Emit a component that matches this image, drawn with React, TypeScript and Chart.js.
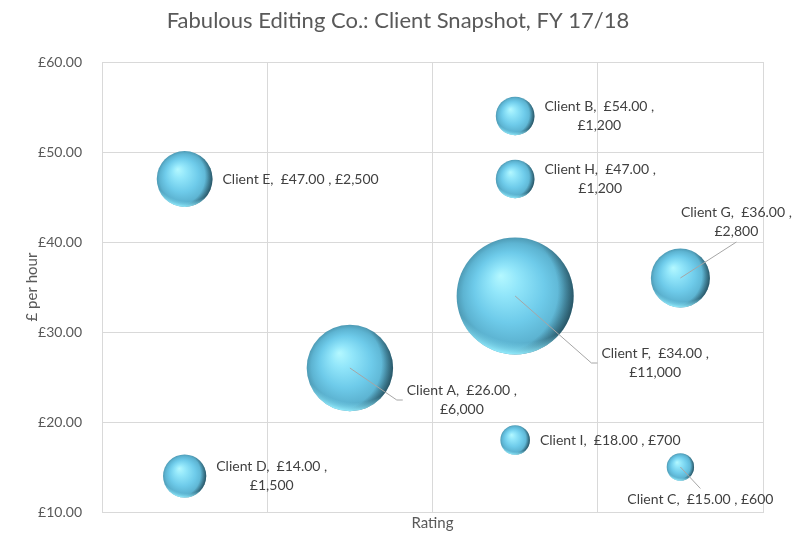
import { useEffect, useRef } from 'react';
import Chart from 'chart.js/auto';

const clients = ['Client A', 'Client B', 'Client C', 'Client D', 'Client E', 'Client F', 'Client G', 'Client H', 'Client I'];
const ratings = [2, 3, 4, 1, 1, 3, 4, 3, 3];
const ratePerHour = [26, 54, 15, 14, 47, 34, 36, 47, 18];
const bubbleSizes = [6000, 1200, 600, 1500, 2500, 11000, 2800, 1200, 700];
const yTicks = [10, 20, 30, 40, 50, 60];
const xGrid = [0.5, 1.5, 2.5, 3.5, 4.5];

// label placement: no dx = right of bubble, otherwise offset of label block centre
type LabelSpec = { wrap: boolean; dx?: number; dy?: number; leader?: 'left' | 'bottom' | 'top' };
const labelSpecs: LabelSpec[] = [
  { wrap: true, dx: 112, dy: 32, leader: 'left' },
  { wrap: true },
  { wrap: false, dx: 20, dy: 32, leader: 'top' },
  { wrap: true },
  { wrap: false },
  { wrap: true, dx: 140, dy: 67, leader: 'left' },
  { wrap: true, dx: 56, dy: -56, leader: 'bottom' },
  { wrap: true },
  { wrap: false },
];

const FONT = 'Lato, "Open Sans", sans-serif';
const MAX_R = 58.5;
const maxSize = Math.max(...bubbleSizes);
const radiusFor = (s: number) => MAX_R * Math.sqrt(s / maxSize);

const money = (v: number) => '£' + v.toLocaleString('en-GB', { minimumFractionDigits: 2, maximumFractionDigits: 2 });
const moneyInt = (v: number) => '£' + v.toLocaleString('en-GB');

const shadingPlugin = {
  id: 'sphereShading',
  afterDatasetsDraw(chart: any) {
    const ctx = chart.ctx;
    const meta = chart.getDatasetMeta(0);
    meta.data.forEach((el: any) => {
      const { x, y } = el;
      const r = el.options.radius;
      if (![x, y, r].every(Number.isFinite)) return;
      ctx.save();
      // darker right side
      let g = ctx.createRadialGradient(x - 0.35 * r, y - 0.1 * r, 0, x - 0.35 * r, y - 0.1 * r, 1.5 * r);
      g.addColorStop(0, 'rgba(15,40,50,0)');
      g.addColorStop(0.72, 'rgba(15,40,50,0)');
      g.addColorStop(0.86, 'rgba(15,40,50,0.45)');
      g.addColorStop(1, 'rgba(15,35,45,0.9)');
      ctx.beginPath();
      ctx.arc(x, y, r, 0, Math.PI * 2);
      ctx.fillStyle = g;
      ctx.fill();
      // light bottom rim
      g = ctx.createRadialGradient(x + 0.1 * r, y - 0.55 * r, 0, x + 0.1 * r, y - 0.55 * r, 1.55 * r);
      g.addColorStop(0, 'rgba(130,230,255,0)');
      g.addColorStop(0.87, 'rgba(130,230,255,0)');
      g.addColorStop(1, 'rgba(150,238,255,0.95)');
      ctx.fillStyle = g;
      ctx.fill();
      ctx.restore();
    });
  },
};

const labelPlugin = {
  id: 'bubbleLabels',
  afterDatasetsDraw(chart: any) {
    const ctx = chart.ctx;
    const meta = chart.getDatasetMeta(0);
    const lh = 19;
    ctx.save();
    ctx.font = `14px ${FONT}`;
    ctx.fillStyle = '#404040';
    ctx.textBaseline = 'middle';
    ctx.textAlign = 'center';
    meta.data.forEach((el: any, i: number) => {
      const spec = labelSpecs[i];
      const first = `${clients[i]},  ${money(ratePerHour[i])} ,`;
      const second = moneyInt(bubbleSizes[i]);
      const lines = spec.wrap ? [first, second] : [`${first} ${second}`];
      const w = Math.max(...lines.map((l) => ctx.measureText(l).width));
      const h = lines.length * lh;
      const r = el.options.radius;
      let cx: number, cy: number;
      if (spec.dx === undefined) {
        cx = el.x + r + 10 + w / 2;
        cy = el.y;
      } else {
        cx = el.x + spec.dx;
        cy = el.y + (spec.dy || 0);
      }
      if (spec.leader) {
        ctx.strokeStyle = '#a6a6a6';
        ctx.lineWidth = 1;
        ctx.beginPath();
        ctx.moveTo(el.x, el.y);
        if (spec.leader === 'left') {
          const lx = cx - w / 2 - 4;
          ctx.lineTo(lx - 6, cy);
          ctx.lineTo(lx, cy);
        } else if (spec.leader === 'bottom') {
          ctx.lineTo(cx, cy + h / 2 + 1);
        } else {
          ctx.lineTo(cx, cy - h / 2 - 1);
        }
        ctx.stroke();
      }
      lines.forEach((l, k) => {
        ctx.fillText(l, cx, cy - h / 2 + lh / 2 + k * lh);
      });
    });
    ctx.restore();
  },
};

const titlesPlugin = {
  id: 'titles',
  afterDraw(chart: any) {
    const ctx = chart.ctx;
    const a = chart.chartArea;
    ctx.save();
    ctx.fillStyle = '#595959';
    ctx.textAlign = 'center';
    ctx.textBaseline = 'middle';
    ctx.font = `22px ${FONT}`;
    ctx.fillText('Fabulous Editing Co.: Client Snapshot, FY 17/18', 398, 21);
    ctx.font = `15px ${FONT}`;
    ctx.fillText('Rating', (a.left + a.right) / 2, 523);
    ctx.translate(32, (a.top + a.bottom) / 2);
    ctx.rotate(-Math.PI / 2);
    ctx.fillText('£ per hour', 0, 0);
    ctx.restore();
  },
};

export default function App() {
  const canvasRef = useRef<HTMLCanvasElement>(null);
  const chartRef = useRef<Chart | null>(null);

  useEffect(() => {
    if (!canvasRef.current) return;
    const ctx = canvasRef.current.getContext('2d');
    if (!ctx) return;
    if (chartRef.current) chartRef.current.destroy();

    chartRef.current = new Chart(ctx, {
      type: 'bubble',
      data: {
        datasets: [
          {
            label: 'Clients',
            data: ratings.map((x, i) => ({ x, y: ratePerHour[i], r: radiusFor(bubbleSizes[i]) })),
            borderWidth: 0,
            backgroundColor: (c: any) => {
              const chart = c.chart;
              const raw = c.raw;
              if (!raw || !chart.scales || !chart.scales.x || !chart.scales.y) return '#6cc6e6';
              const x = chart.scales.x.getPixelForValue(raw.x);
              const y = chart.scales.y.getPixelForValue(raw.y);
              const r = raw.r;
              if (![x, y, r].every(Number.isFinite)) return '#6cc6e6';
              const g = chart.ctx.createRadialGradient(x - 0.25 * r, y - 0.35 * r, 0, x, y, r);
              g.addColorStop(0, '#b4f8ff');
              g.addColorStop(0.25, '#92e6fa');
              g.addColorStop(0.6, '#6ecbea');
              g.addColorStop(0.85, '#5db4d2');
              g.addColorStop(1, '#4e9ab4');
              return g;
            },
            hoverBackgroundColor: '#6cc6e6',
          },
        ],
      },
      options: {
        responsive: false,
        animation: false,
        devicePixelRatio: 1,
        layout: { autoPadding: false, padding: { top: 62, right: 32, left: 0, bottom: 0 } },
        plugins: {
          legend: { display: false },
          title: { display: false },
          tooltip: { enabled: false },
        },
        scales: {
          x: {
            type: 'linear',
            min: 0.5,
            max: 4.5,
            afterBuildTicks: (s: any) => {
              s.ticks = xGrid.map((v) => ({ value: v }));
            },
            afterFit: (s: any) => {
              s.height = 37;
            },
            ticks: { display: false },
            grid: { color: '#d9d9d9', drawTicks: false },
            border: { display: true, color: '#d9d9d9' },
          },
          y: {
            type: 'linear',
            min: 10,
            max: 60,
            afterBuildTicks: (s: any) => {
              s.ticks = yTicks.map((v) => ({ value: v }));
            },
            afterFit: (s: any) => {
              s.width = 102;
            },
            ticks: {
              padding: 20,
              color: '#595959',
              font: { family: FONT, size: 14 },
              callback: (v: any) => money(Number(v)),
            },
            grid: { color: '#d9d9d9', drawTicks: false },
            border: { display: true, color: '#d9d9d9' },
          },
        },
      },
      plugins: [shadingPlugin, labelPlugin, titlesPlugin],
    });

    return () => {
      if (chartRef.current) {
        chartRef.current.destroy();
        chartRef.current = null;
      }
    };
  }, []);

  return (
    <div style={{ position: 'fixed', left: 0, top: 0, width: 795, height: 549, background: '#fff' }}>
      <canvas ref={canvasRef} width={795} height={549} />
    </div>
  );
}
